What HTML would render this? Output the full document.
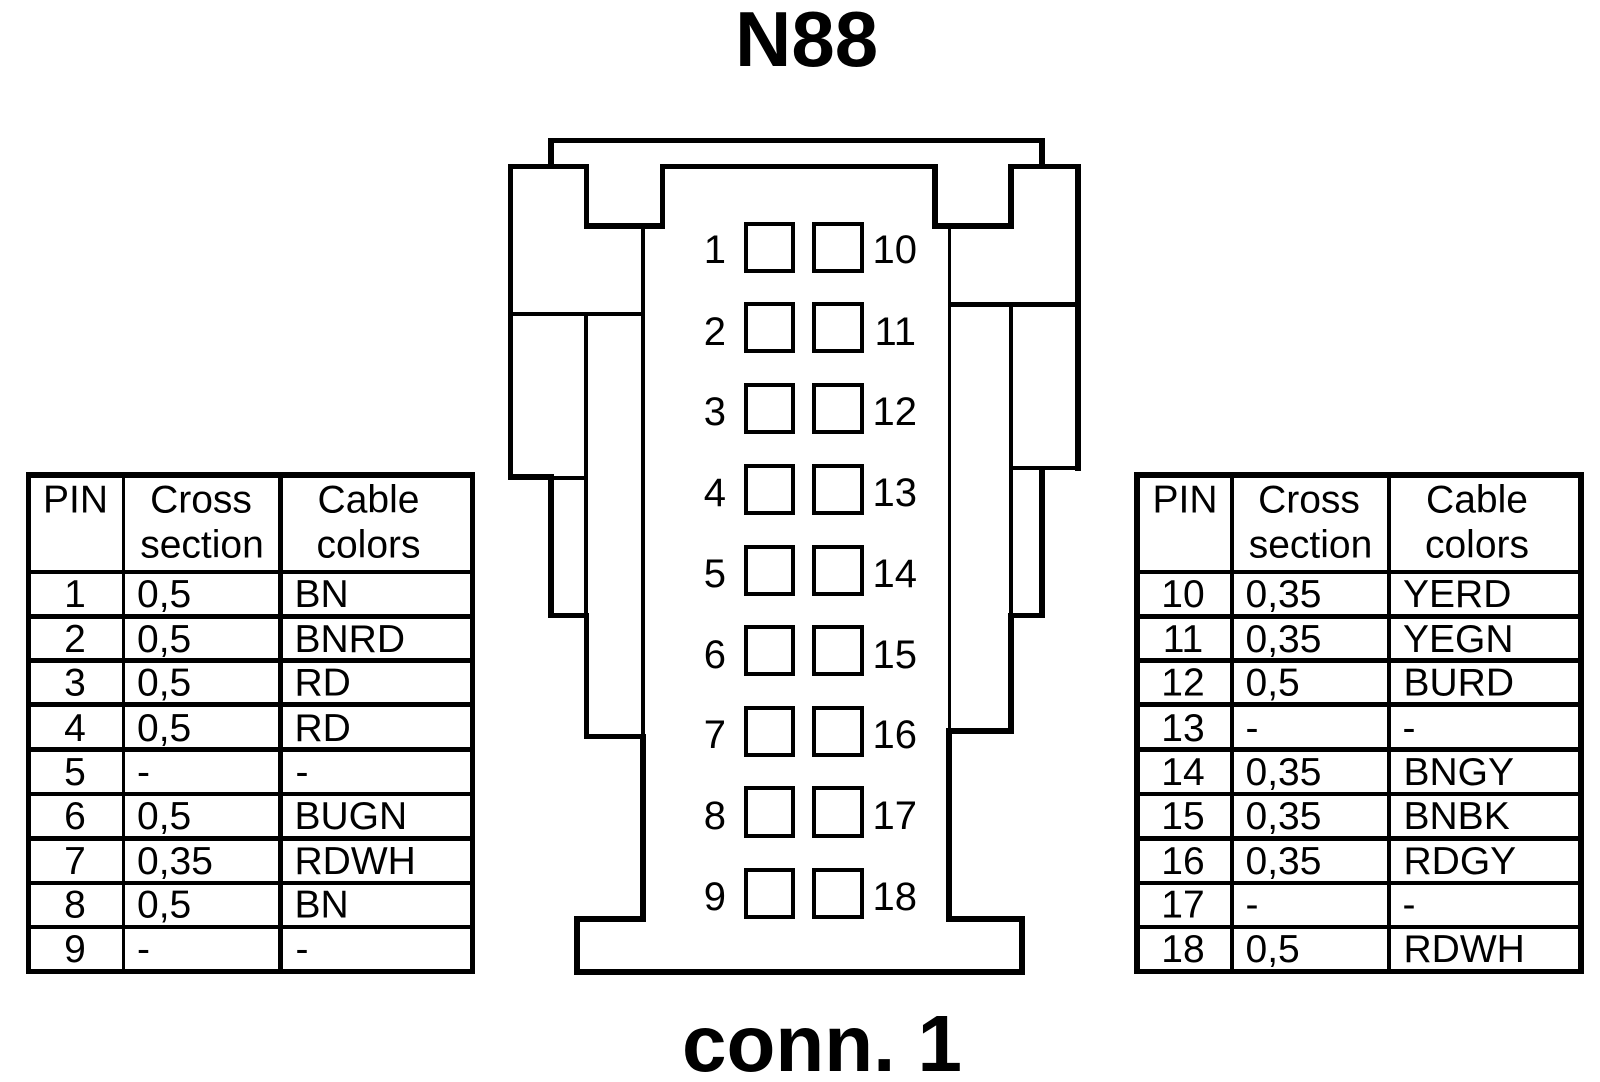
<!DOCTYPE html>
<html>
<head>
<meta charset="utf-8">
<style>
html,body{margin:0;padding:0;background:#fff;width:1600px;height:1082px;overflow:hidden}
svg{display:block}
text{font-family:"Liberation Sans",Arial,sans-serif;font-size:39px;fill:#000}
.c{text-anchor:middle}
.n{font-size:40px}
.e{text-anchor:end}
.b{font-weight:bold;font-size:80px}
.t{font-size:78px}
rect.p{fill:none;stroke:#000;stroke-width:4}
</style>
</head>
<body>
<svg width="1600" height="1082" viewBox="0 0 1600 1082" xmlns="http://www.w3.org/2000/svg">
<rect width="1600" height="1082" fill="#fff"/>

<text class="b t" x="735" y="66">N88</text>
<text class="b" x="682" y="1071">conn. 1</text>

<!-- connector -->
<g fill="#000" shape-rendering="crispEdges">
<rect x="548" y="138" width="497" height="5"/>
<rect x="548" y="138" width="6" height="30"/>
<rect x="1039" y="138" width="6" height="30"/>
<rect x="508" y="164" width="81" height="5"/>
<rect x="660" y="164" width="278" height="5"/>
<rect x="1008" y="164" width="73" height="5"/>
<rect x="508" y="164" width="5" height="316"/>
<rect x="584" y="164" width="5" height="65"/>
<rect x="660" y="164" width="5" height="65"/>
<rect x="584" y="223" width="81" height="6"/>
<rect x="932" y="164" width="6" height="65"/>
<rect x="1008" y="164" width="6" height="65"/>
<rect x="932" y="223" width="82" height="6"/>
<rect x="1075" y="164" width="6" height="307"/>
<rect x="641" y="228" width="4" height="508"/>
<rect x="948" y="228" width="3" height="502"/>
<rect x="508" y="312" width="137" height="4"/>
<rect x="948" y="302" width="133" height="5"/>
<rect x="584" y="312" width="4" height="302"/>
<rect x="1009" y="302" width="4" height="312"/>
<rect x="508" y="474" width="46" height="6"/>
<rect x="554" y="476" width="31" height="4"/>
<rect x="548" y="474" width="6" height="144"/>
<rect x="548" y="613" width="41" height="5"/>
<rect x="584" y="613" width="5" height="126"/>
<rect x="584" y="734" width="62" height="5"/>
<rect x="640" y="734" width="6" height="188"/>
<rect x="1009" y="466" width="72" height="4"/>
<rect x="1039" y="466" width="6" height="152"/>
<rect x="1008" y="613" width="37" height="5"/>
<rect x="1008" y="613" width="6" height="121"/>
<rect x="946" y="728" width="68" height="6"/>
<rect x="946" y="728" width="6" height="194"/>
<rect x="574" y="916" width="72" height="6"/>
<rect x="946" y="916" width="79" height="6"/>
<rect x="574" y="916" width="6" height="59"/>
<rect x="1019" y="916" width="6" height="59"/>
<rect x="574" y="969" width="451" height="6"/>
</g>

<!-- pin squares -->
<g shape-rendering="crispEdges">
<rect class="p" x="746" y="224" width="47" height="47"/><rect class="p" x="814" y="224" width="48" height="47"/>
<rect class="p" x="746" y="304" width="47" height="47"/><rect class="p" x="814" y="304" width="48" height="47"/>
<rect class="p" x="746" y="385" width="47" height="47"/><rect class="p" x="814" y="385" width="48" height="47"/>
<rect class="p" x="746" y="466" width="47" height="47"/><rect class="p" x="814" y="466" width="48" height="47"/>
<rect class="p" x="746" y="547" width="47" height="47"/><rect class="p" x="814" y="547" width="48" height="47"/>
<rect class="p" x="746" y="627" width="47" height="47"/><rect class="p" x="814" y="627" width="48" height="47"/>
<rect class="p" x="746" y="708" width="47" height="47"/><rect class="p" x="814" y="708" width="48" height="47"/>
<rect class="p" x="746" y="788" width="47" height="48"/><rect class="p" x="814" y="788" width="48" height="48"/>
<rect class="p" x="746" y="870" width="47" height="47"/><rect class="p" x="814" y="870" width="48" height="47"/>
</g>

<!-- pin labels -->
<text class="n e" x="726" y="263">1</text><text class="n" x="872.5" y="263">10</text>
<text class="n e" x="726" y="345">2</text><text class="n" x="874.5" y="345">11</text>
<text class="n e" x="726" y="425">3</text><text class="n" x="872.5" y="425">12</text>
<text class="n e" x="726" y="506">4</text><text class="n" x="872.5" y="506">13</text>
<text class="n e" x="726" y="587">5</text><text class="n" x="872.5" y="587">14</text>
<text class="n e" x="726" y="668">6</text><text class="n" x="872.5" y="668">15</text>
<text class="n e" x="726" y="748">7</text><text class="n" x="872.5" y="748">16</text>
<text class="n e" x="726" y="829">8</text><text class="n" x="872.5" y="829">17</text>
<text class="n e" x="726" y="910">9</text><text class="n" x="872.5" y="910">18</text>

<!-- left table -->
<g fill="#000" shape-rendering="crispEdges">
<rect x="26" y="472" width="449" height="6"/>
<rect x="26" y="969" width="449" height="5"/>
<rect x="26" y="472" width="5" height="502"/>
<rect x="470" y="472" width="5" height="502"/>
<rect x="122" y="472" width="3" height="502"/>
<rect x="278" y="472" width="5" height="502"/>
<rect x="26" y="570" width="449" height="4"/>
<rect x="26" y="614" width="449" height="5"/>
<rect x="26" y="658" width="449" height="5"/>
<rect x="26" y="702" width="449" height="5"/>
<rect x="26" y="747" width="449" height="5"/>
<rect x="26" y="792" width="449" height="4"/>
<rect x="26" y="836" width="449" height="5"/>
<rect x="26" y="881" width="449" height="4"/>
<rect x="26" y="925" width="449" height="4"/>
</g>
<text class="c" x="75.5" y="512.5">PIN</text>
<text class="c" x="201" y="512.5">Cross</text>
<text class="c" x="202" y="557.5">section</text>
<text class="c" x="368.5" y="512.5">Cable</text>
<text class="c" x="368.5" y="557.5">colors</text>

<text class="c" x="75" y="607">1</text><text x="137" y="607">0,5</text><text x="294.5" y="607">BN</text>
<text class="c" x="75" y="652">2</text><text x="137" y="652">0,5</text><text x="294.5" y="652">BNRD</text>
<text class="c" x="75" y="695.5">3</text><text x="137" y="695.5">0,5</text><text x="294.5" y="695.5">RD</text>
<text class="c" x="75" y="741">4</text><text x="137" y="741">0,5</text><text x="294.5" y="741">RD</text>
<text class="c" x="75" y="785">5</text><text x="137" y="785">-</text><text x="295.5" y="785">-</text>
<text class="c" x="75" y="829">6</text><text x="137" y="829">0,5</text><text x="294.5" y="829">BUGN</text>
<text class="c" x="75" y="874">7</text><text x="137" y="874">0,35</text><text x="294.5" y="874">RDWH</text>
<text class="c" x="75" y="917.5">8</text><text x="137" y="917.5">0,5</text><text x="294.5" y="917.5">BN</text>
<text class="c" x="75" y="962">9</text><text x="137" y="962">-</text><text x="295.5" y="962">-</text>

<!-- right table -->
<g fill="#000" shape-rendering="crispEdges">
<rect x="1134" y="472" width="450" height="6"/>
<rect x="1134" y="969" width="450" height="5"/>
<rect x="1134" y="472" width="6" height="502"/>
<rect x="1578" y="472" width="6" height="502"/>
<rect x="1230" y="472" width="4" height="502"/>
<rect x="1387" y="472" width="4" height="502"/>
<rect x="1134" y="570" width="450" height="4"/>
<rect x="1134" y="614" width="450" height="5"/>
<rect x="1134" y="658" width="450" height="5"/>
<rect x="1134" y="702" width="450" height="5"/>
<rect x="1134" y="747" width="450" height="5"/>
<rect x="1134" y="792" width="450" height="4"/>
<rect x="1134" y="836" width="450" height="5"/>
<rect x="1134" y="881" width="450" height="4"/>
<rect x="1134" y="925" width="450" height="4"/>
</g>
<text class="c" x="1185" y="512.5">PIN</text>
<text class="c" x="1309" y="512.5">Cross</text>
<text class="c" x="1310.5" y="557.5">section</text>
<text class="c" x="1477" y="512.5">Cable</text>
<text class="c" x="1477" y="557.5">colors</text>

<text class="c" x="1183" y="607">10</text><text x="1245.5" y="607">0,35</text><text x="1403" y="607">YERD</text>
<text class="c" x="1183" y="652">11</text><text x="1245.5" y="652">0,35</text><text x="1403" y="652">YEGN</text>
<text class="c" x="1183" y="695.5">12</text><text x="1245.5" y="695.5">0,5</text><text x="1403.5" y="695.5">BURD</text>
<text class="c" x="1183" y="741">13</text><text x="1245.5" y="741">-</text><text x="1402.5" y="741">-</text>
<text class="c" x="1183" y="785">14</text><text x="1245.5" y="785">0,35</text><text x="1403.5" y="785">BNGY</text>
<text class="c" x="1183" y="829">15</text><text x="1245.5" y="829">0,35</text><text x="1403.5" y="829">BNBK</text>
<text class="c" x="1183" y="874">16</text><text x="1245.5" y="874">0,35</text><text x="1403.5" y="874">RDGY</text>
<text class="c" x="1183" y="917.5">17</text><text x="1245.5" y="917.5">-</text><text x="1402.5" y="917.5">-</text>
<text class="c" x="1183" y="962">18</text><text x="1245.5" y="962">0,5</text><text x="1403.5" y="962">RDWH</text>
</svg>
</body>
</html>
